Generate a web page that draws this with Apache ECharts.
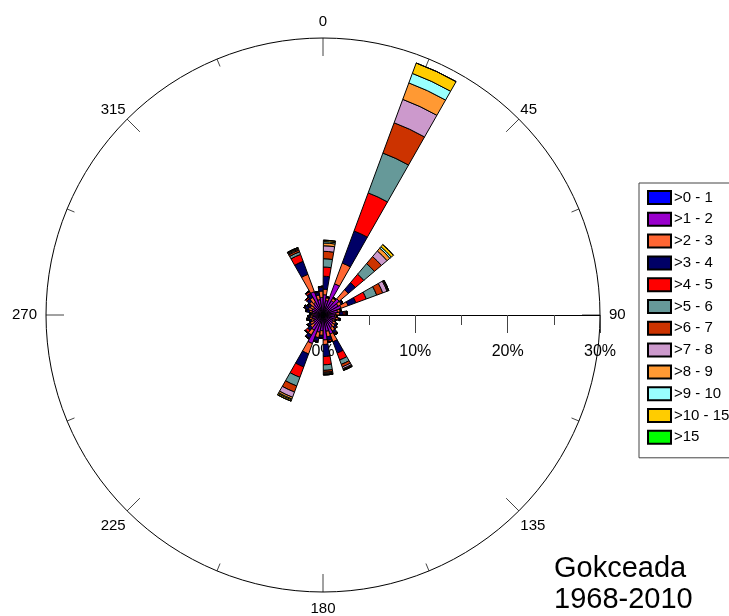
<!DOCTYPE html>
<html>
<head>
<meta charset="utf-8">
<script src="https://cdn.jsdelivr.net/npm/echarts@6/dist/echarts.min.js"></script>
<style>
html,body{margin:0;padding:0;background:#fff;}
#c{width:729px;height:616px;}
</style>
</head>
<body>
<div id="c"></div>
<script>
// Direction sectors (10 degree bins, clockwise from north)
const sectors = ['0-10','10-20','20-30','30-40','40-50','50-60','60-70','70-80','80-90','90-100','100-110','110-120',
  '120-130','130-140','140-150','150-160','160-170','170-180','180-190','190-200','200-210','210-220','220-230','230-240',
  '240-250','250-260','260-270','270-280','280-290','290-300','300-310','310-320','320-330','330-340','340-350','350-360'];

const speedClasses = ['>0 - 1','>1 - 2','>2 - 3','>3 - 4','>4 - 5','>5 - 6','>6 - 7','>7 - 8','>8 - 9','>9 - 10','>10 - 15','>15'];

// Frequency (%) per speed class, one value per sector
const s0_1  = [0.5,0.4,0.5,0.4,0.4,0.4,0.4,0.4,0.4,0.4,0.4,0.3,0.3,0.3,0.4,0.4,0.4,0.4,0.4,0.4,0.4,0.4,0.4,0.3,0.3,0.3,0.3,0.3,0.3,0.3,0.3,0.3,0.4,0.4,0.4,0.4];
const s1_2  = [1.7,1.2,3.1,1.4,1.9,1.5,1.7,1.2,1.0,0.9,1.0,0.9,1.0,1.1,1.2,1.8,1.4,2.3,1.3,1.5,2.9,1.5,1.0,0.9,0.8,0.9,0.8,0.7,0.9,1.0,0.9,1.1,1.2,2.3,1.3,1.5];
const s2_3  = [0.6,0.3,2.4,0.3,1.3,0.4,0.8,0.3,0.4,0.2,0.3,0.2,0.3,0.3,0.4,0.9,0.6,0.5,0.5,0.6,1.2,0.6,0.4,0.4,0.3,0.3,0.3,0.2,0.3,0.4,0.4,0.5,0.6,2.0,0.5,0.7];
const s3_4  = [1.4,0.1,3.7,0.1,1.0,0.2,0.9,0.1,0.4,0.0,0.2,0.1,0.2,0.2,0.3,1.3,0.4,1.3,0.3,0.4,1.5,0.4,0.4,0.3,0.2,0.2,0.2,0.2,0.3,0.4,0.3,0.4,0.5,1.5,0.3,0.4];
const s4_5  = [1.0,0.0,4.4,0.0,1.2,0.0,1.2,0.0,0.2,0.0,0.0,0.0,0.0,0.1,0.1,0.8,0.2,0.9,0.0,0.1,1.2,0.1,0.3,0.1,0.0,0.1,0.0,0.0,0.1,0.1,0.1,0.2,0.2,0.8,0.1,0.1];
const s5_6  = [0.9,0.0,4.6,0.0,1.5,0.0,1.2,0.0,0.1,0.0,0.0,0.0,0.0,0.0,0.1,0.5,0.0,0.6,0.0,0.0,1.0,0.0,0.1,0.0,0.0,0.0,0.0,0.0,0.0,0.0,0.0,0.0,0.1,0.3,0.0,0.0];
const s6_7  = [0.8,0.0,3.5,0.0,1.0,0.0,0.7,0.0,0.1,0.0,0.0,0.0,0.0,0.0,0.0,0.3,0.0,0.2,0.0,0.0,0.7,0.0,0.0,0.0,0.0,0.0,0.0,0.0,0.0,0.0,0.0,0.0,0.0,0.2,0.0,0.0];
const s7_8  = [0.6,0.0,2.7,0.0,0.8,0.0,0.5,0.0,0.0,0.0,0.0,0.0,0.0,0.0,0.0,0.2,0.0,0.1,0.0,0.0,0.6,0.0,0.0,0.0,0.0,0.0,0.0,0.0,0.0,0.0,0.0,0.0,0.0,0.1,0.0,0.0];
const s8_9  = [0.3,0.0,1.9,0.0,0.4,0.0,0.1,0.0,0.0,0.0,0.0,0.0,0.0,0.0,0.0,0.1,0.0,0.1,0.0,0.0,0.2,0.0,0.0,0.0,0.0,0.0,0.0,0.0,0.0,0.0,0.0,0.0,0.0,0.1,0.0,0.0];
const s9_10 = [0.15,0.0,1.1,0.0,0.2,0.0,0.05,0.0,0.0,0.0,0.0,0.0,0.0,0.0,0.0,0.05,0.0,0.05,0.0,0.0,0.1,0.0,0.0,0.0,0.0,0.0,0.0,0.0,0.0,0.0,0.0,0.0,0.0,0.05,0.0,0.0];
const s10_15= [0.15,0.0,1.2,0.0,0.3,0.0,0.05,0.0,0.0,0.0,0.0,0.0,0.0,0.0,0.0,0.05,0.0,0.05,0.0,0.0,0.15,0.0,0.0,0.0,0.0,0.0,0.0,0.0,0.0,0.0,0.0,0.0,0.0,0.05,0.0,0.0];
const s15   = [0,0,0,0,0,0,0,0,0,0,0,0,0,0,0,0,0,0,0,0,0,0,0,0,0,0,0,0,0,0,0,0,0,0,0,0];

const classValues = [s0_1,s1_2,s2_3,s3_4,s4_5,s5_6,s6_7,s7_8,s8_9,s9_10,s10_15,s15];
const classColors = ['#0000FF','#9900CC','#FF6633','#000066','#FF0000','#669999','#CC3300','#CC99CC','#FF9933','#99FFFF','#FFCC00','#00FF00'];

// Axis tick labels
const compassLabels = {0:'0',45:'45',90:'90',135:'135',180:'180',225:'225',270:'270',315:'315'};
const radiusMax = 30;

const FONT = '"Liberation Sans", Arial, sans-serif';
const chart = echarts.init(document.getElementById('c'), null, {renderer:'canvas'});

const series = speedClasses.map((name, i) => ({
  type: 'bar',
  name: name,
  coordinateSystem: 'polar',
  polarIndex: 1,
  stack: 'wind',
  data: classValues[i],
  barCategoryGap: '6%',
  z: 5,
  itemStyle: { color: classColors[i], borderColor: '#000', borderWidth: 1 },
  emphasis: { disabled: true },
  animation: false
}));

chart.setOption({
  backgroundColor: '#fff',
  animation: false,
  textStyle: { fontFamily: FONT },
  title: {
    text: 'Gokceada\n1968-2010',
    left: 549, top: 548,
    textStyle: { fontFamily: FONT, fontSize: 29, fontWeight: 'normal', color: '#000', lineHeight: 31 }
  },
  legend: {
    orient: 'vertical',
    left: 639, top: 183,
    padding: [7, 8, 13, 8],
    itemWidth: 23, itemHeight: 13, itemGap: 6.8,
    icon: 'rect',
    selectedMode: false,
    borderColor: '#444', borderWidth: 1,
    textStyle: { fontFamily: FONT, fontSize: 15, color: '#000', padding: [0,0,0,-2] },
    data: speedClasses
  },
  // Radial percentage scale along the east direction
  grid: { left: 323, right: 129, top: 100, bottom: 301, show: false },
  xAxis: {
    type: 'value', min: 0, max: radiusMax, interval: 10,
    axisLine: { show: true, onZero: false, lineStyle: { color: '#000', width: 1 } },
    axisTick: { show: true, length: 18, lineStyle: { color: '#444', width: 1 } },
    minorTick: { show: true, splitNumber: 2, length: 10, lineStyle: { color: '#444', width: 1 } },
    splitLine: { show: false },
    axisLabel: { show: true, margin: 29, fontFamily: FONT, fontSize: 16, color: '#000', formatter: v => v + '%' }
  },
  yAxis: { type: 'value', show: false, min: 0, max: 1 },
  polar: [
    { center: [323, 315], radius: 277 },
    { center: [323, 315], radius: 277 }
  ],
  angleAxis: [
    {
      polarIndex: 0,
      type: 'value', min: 0, max: 360, interval: 45,
      startAngle: 0, clockwise: true,
      axisLine: { show: true, lineStyle: { color: '#000', width: 1 } },
      axisTick: { show: true, inside: true, length: 18, lineStyle: { color: '#444', width: 1 } },
      minorTick: { show: true, splitNumber: 2, length: 8, lineStyle: { color: '#444', width: 1 } },
      splitLine: { show: false },
      axisLabel: {
        show: true, margin: 2, fontFamily: FONT, fontSize: 15, color: '#000',
        formatter: v => {
          if (v >= 360) return '';
          const k = (Math.round(v) + 90) % 360;
          const t = compassLabels[k];
          if (t === undefined) return '';
          if (k % 90 === 0) return '{c|' + t + '}';
          return (k === 135 || k === 225) ? '{e|' + t + '}' : '{d|' + t + '}';
        },
        rich: {
          c: { fontFamily: FONT, fontSize: 15, color: '#000', padding: [7, 7, 7, 7] },
          d: { fontFamily: FONT, fontSize: 15, color: '#000', padding: [0, 0, 0, 0] },
          e: { fontFamily: FONT, fontSize: 15, color: '#000', padding: [6, 0, 0, 0] }
        }
      }
    },
    {
      polarIndex: 1,
      type: 'category', data: sectors,
      startAngle: 90, clockwise: true,
      axisLine: { show: false }, axisTick: { show: false }, axisLabel: { show: false }, splitLine: { show: false }
    }
  ],
  radiusAxis: [
    {
      polarIndex: 0,
      type: 'value', min: 0, max: radiusMax,
      axisLine: { show: false }, axisTick: { show: false }, axisLabel: { show: false }, splitLine: { show: false }
    },
    {
      polarIndex: 1,
      type: 'value', min: 0, max: radiusMax,
      axisLine: { show: false }, axisTick: { show: false }, axisLabel: { show: false }, splitLine: { show: false }
    }
  ],
  series: series
});
</script>
</body>
</html>
